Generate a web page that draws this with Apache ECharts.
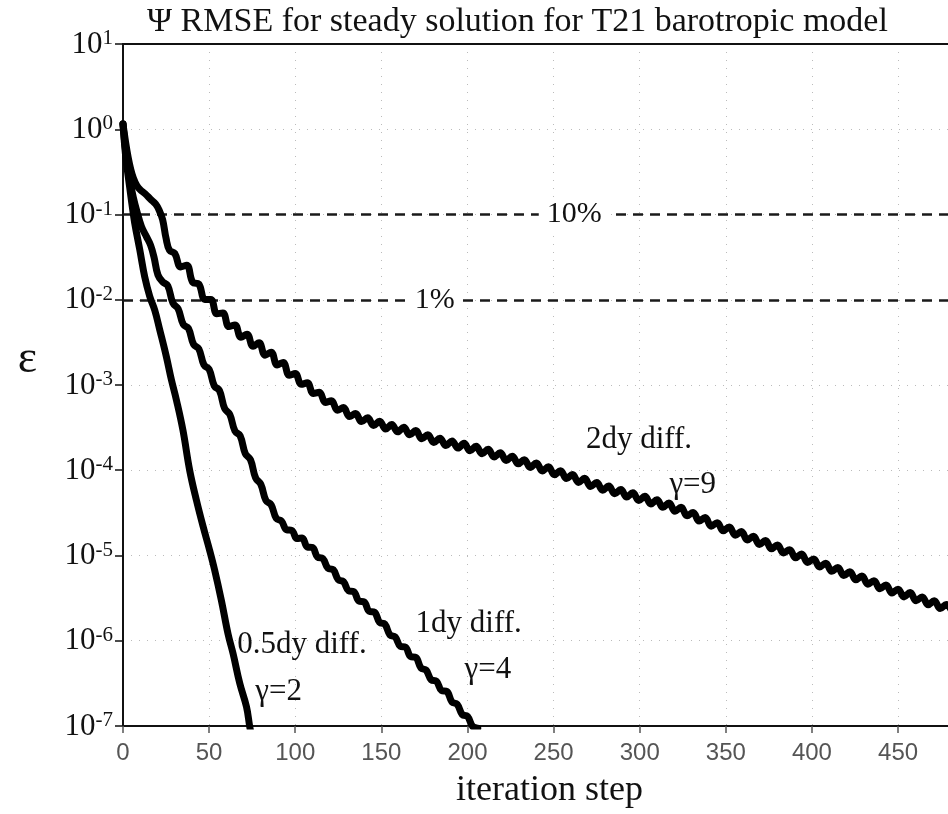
<!DOCTYPE html>
<html><head><meta charset="utf-8">
<script src="https://cdn.jsdelivr.net/npm/echarts@6/dist/echarts.min.js"></script>
<style>html,body{margin:0;padding:0;background:#fff}#c{width:948px;height:814px}</style>
</head><body><div id="c"></div>
<script>
const TITLE = 'Ψ RMSE for steady solution for T21 barotropic model';
const X_NAME = 'iteration step';
const Y_NAME = 'ε';
const X_TICKS = [0, 50, 100, 150, 200, 250, 300, 350, 400, 450];

// [iteration, RMSE]
const RMSE_2DY = [
[0,1.15],[1.5,0.708],[3,0.468],[4.5,0.339],[6,0.269],[8,0.219],[10,0.195],[13,0.174],[16,0.151],[19,0.132],[21,0.112],[23,0.0871],[25,0.0525],[27,0.0380],
[30,3.51e-2],[33.5,2.43e-2],[37,2.54e-2],[40.5,1.60e-2],[44,1.53e-2],[47.5,1.01e-2],[51,1.01e-2],[54.5,6.84e-3],[58,7.00e-3],[61.5,4.84e-3],
[65,5.07e-3],[68.5,3.63e-3],[72,3.94e-3],[75.5,2.85e-3],[79,3.13e-3],[82.5,2.24e-3],[86,2.43e-3],[89.5,1.72e-3],[93,1.84e-3],[96.5,1.30e-3],
[100,1.36e-3],[103.5,1.02e-3],[107,1.06e-3],[110.5,7.94e-4],[114,8.22e-4],[117.5,6.24e-4],[121,6.53e-4],[124.5,5.07e-4],[128,5.43e-4],[131.5,4.27e-4],
[135,4.62e-4],[138.5,3.72e-4],[142,4.12e-4],[145.5,3.35e-4],[149,3.76e-4],[152.5,3.05e-4],[156,3.43e-4],[159.5,2.82e-4],[163,3.20e-4],[166.5,2.60e-4],
[170,2.92e-4],[173.5,2.34e-4],[177,2.60e-4],[180.5,2.11e-4],[184,2.37e-4],[187.5,1.95e-4],[191,2.21e-4],[194.5,1.82e-4],[198,2.07e-4],[201.5,1.69e-4],
[205,1.91e-4],[208.5,1.56e-4],[212,1.76e-4],[215.5,1.43e-4],[219,1.60e-4],[222.5,1.30e-4],[226,1.46e-4],[229.5,1.19e-4],[233,1.33e-4],[236.5,1.08e-4],
[240,1.22e-4],[243.5,9.83e-5],[247,1.10e-4],[250.5,8.86e-5],[254,9.89e-5],[257.5,7.99e-5],[261,8.91e-5],[264.5,7.20e-5],[268,8.04e-5],[271.5,6.46e-5],
[275,7.16e-5],[278.5,5.82e-5],[282,6.53e-5],[285.5,5.31e-5],[289,5.96e-5],[292.5,4.84e-5],[296,5.43e-5],[299.5,4.42e-5],[303,4.95e-5],[306.5,4.03e-5],
[310,4.52e-5],[313.5,3.67e-5],[317,4.12e-5],[320.5,3.31e-5],[324,3.67e-5],[327.5,2.92e-5],[331,3.20e-5],[334.5,2.54e-5],[338,2.79e-5],[341.5,2.21e-5],
[345,2.43e-5],[348.5,1.95e-5],[352,2.16e-5],[355.5,1.73e-5],[359,1.91e-5],[362.5,1.52e-5],[366,1.68e-5],[369.5,1.35e-5],[373,1.50e-5],[376.5,1.20e-5],
[380,1.33e-5],[383.5,1.07e-5],[387,1.17e-5],[390.5,9.39e-6],[394,1.04e-5],[397.5,8.27e-6],[401,9.12e-6],[404.5,7.33e-6],[408,8.13e-6],[411.5,6.53e-6],
[415,7.24e-6],[418.5,5.82e-6],[422,6.46e-6],[425.5,5.19e-6],[429,5.75e-6],[432.5,4.60e-6],[436,5.07e-6],[439.5,4.07e-6],[443,4.52e-6],[446.5,3.63e-6],
[450,4.03e-6],[453.5,3.27e-6],[457,3.67e-6],[460.5,2.95e-6],[464,3.27e-6],[467.5,2.65e-6],[471,2.95e-6],[474.5,2.39e-6],[478,2.66e-6],[481.5,2.15e-6]
];

const RMSE_1DY = [
[0,1.15],[1,0.692],[2,0.457],[3,0.331],[4,0.251],[6,0.158],[8,0.110],[10.7,0.0724],[13.6,0.0550],[16,0.0437],[18,0.0316],[20.3,0.0195],[23,0.0162],
[26,1.46e-2],[29,9.12e-3],[32,7.85e-3],[35,5.13e-3],[38,4.62e-3],[41,2.99e-3],[44,2.66e-3],[47,1.72e-3],[50,1.53e-3],[53,9.77e-4],[56,8.61e-4],
[59,5.31e-4],[62,4.52e-4],[65,2.88e-4],[68,2.54e-4],[71,1.57e-4],[74,1.33e-4],[77,8.13e-5],[80,6.84e-5],[83,4.42e-5],[86,3.94e-5],[89,2.72e-5],
[92,2.54e-5],[95,2.00e-5],[98,1.97e-5],[101,1.58e-5],[104,1.60e-5],[107,1.26e-5],[110,1.24e-5],[113,9.55e-6],[116,9.23e-6],[119,7.08e-6],[122,6.84e-6],
[125,5.19e-6],[128,4.95e-6],[131,3.85e-6],[134,3.76e-6],[137,2.92e-6],[140,2.85e-6],[143,2.21e-6],[146,2.16e-6],[149,1.64e-6],[152,1.57e-6],
[155,1.17e-6],[158,1.11e-6],[161,8.61e-7],[164,8.41e-7],[167,6.53e-7],[170,6.38e-7],[173,4.79e-7],[176,4.52e-7],[179,3.47e-7],[182,3.35e-7],
[185,2.60e-7],[188,2.54e-7],[191,1.91e-7],[194,1.80e-7],[197,1.36e-7],[200,1.30e-7],[203,9.89e-8],[206,9.44e-8]
];

const RMSE_05DY = [
[0,1.15],[1,0.631],[2,0.398],[3,0.282],[4,0.200],[5,0.141],[6.8,0.0794],[9.7,0.0389],[12.6,0.0186],[15.5,0.0110],[18.4,7.59e-3],[21.3,4.47e-3],
[25.2,2.14e-3],[28.1,1.15e-3],[31,6.68e-4],[34.8,2.95e-4],[38.7,1.00e-4],[42.6,4.47e-5],[46.5,2.19e-5],[50.3,1.15e-5],[53.2,6.76e-6],[57.1,2.99e-6],
[61,1.20e-6],[63.9,7.08e-7],[67.8,3.16e-7],[71.7,1.68e-7],[73.6,9.77e-8],[74.5,8.0e-8]
];

const THRESHOLDS = [0.1, 0.01];
const THRESHOLD_LABELS = [
  {name: '10%', value: [262, 0.1]},
  {name: '1%', value: [181, 0.01]}
];
const CURVE_LABELS = [
  {name: '2dy diff.', value: [299.6, 2.27e-4]},
  {name: 'γ=9', value: [330.8, 6.71e-5]},
  {name: '1dy diff.', value: [200.7, 1.57e-6]},
  {name: 'γ=4', value: [211.8, 4.53e-7]},
  {name: '0.5dy diff.', value: [103.9, 8.91e-7]},
  {name: 'γ=2', value: [90.4, 2.50e-7]}
];

const SERIF = '"Liberation Serif", "Times New Roman", serif';
const chart = echarts.init(document.getElementById('c'), null, {renderer: 'canvas'});

function curve(name, data) {
  return {
    name, type: 'line', data, smooth: 0.4, symbol: 'none', clip: true,
    lineStyle: {color: '#000', width: 7, cap: 'round', join: 'round'},
    z: 5, silent: true
  };
}

chart.setOption({
  animation: false,
  backgroundColor: '#fff',
  title: {
    text: TITLE, left: 147, top: 5, padding: 0,
    textStyle: {fontFamily: SERIF, fontSize: 34, fontWeight: 'normal', color: '#111'}
  },
  grid: {left: 123, right: 0, top: 44, bottom: 88, containLabel: false},
  xAxis: [{
    type: 'value', min: 0, max: 479, interval: 50,
    name: X_NAME, nameLocation: 'middle', nameGap: 47,
    nameTextStyle: {fontFamily: SERIF, fontSize: 36, color: '#111', padding: [0, 0, 0, 28]},
    axisLine: {show: true, onZero: false, lineStyle: {color: '#111', width: 2}},
    axisTick: {show: true, length: 7, lineStyle: {color: '#555', width: 1.5}},
    axisLabel: {
      showMaxLabel: false, margin: 15, color: '#555', fontFamily: '"Liberation Sans", Arial, sans-serif', fontSize: 24,
      formatter: v => (X_TICKS.indexOf(v) >= 0 ? String(v) : '')
    },
    splitLine: {show: true, lineStyle: {color: '#bbb', width: 1, type: [1, 7]}}
  }, {
    type: 'value', position: 'top', min: 0, max: 479,
    axisLine: {show: true, onZero: false, lineStyle: {color: '#111', width: 2}},
    axisTick: {show: false}, axisLabel: {show: false}, splitLine: {show: false}
  }],
  yAxis: {
    type: 'log', logBase: 10, min: 1e-7, max: 10, interval: 1,
    name: Y_NAME, nameLocation: 'middle', nameGap: 86, nameRotate: 0,
    nameTextStyle: {fontFamily: SERIF, fontSize: 46, color: '#111', verticalAlign: 'bottom', lineHeight: 46, padding: [0, 0, 2, 0]},
    axisLine: {show: true, onZero: false, lineStyle: {color: '#111', width: 2}},
    axisTick: {show: true, length: 8, lineStyle: {color: '#111', width: 1.5}},
    axisLabel: {
      margin: 10,
      formatter: v => '{b|10}{s|' + Math.round(Math.log10(v)) + '}',
      rich: {
        b: {fontFamily: SERIF, fontSize: 31, color: '#111', lineHeight: 32, padding: [6, 0, 0, 0], verticalAlign: 'bottom'},
        s: {fontFamily: SERIF, fontSize: 21, color: '#111', lineHeight: 20, verticalAlign: 'top'}
      }
    },
    splitLine: {show: true, lineStyle: {color: '#bbb', width: 1, type: [1, 7]}}
  },
  series: [
    {
      name: 'thresholds', type: 'line', data: [], silent: true, z: 2,
      markLine: {
        silent: true, symbol: ['none', 'none'], animation: false,
        label: {show: false},
        lineStyle: {color: '#1a1a1a', width: 2.5, type: [10, 7]},
        data: THRESHOLDS.map(t => ({yAxis: t}))
      }
    },
    curve('0.5dy diff.', RMSE_05DY),
    curve('1dy diff.', RMSE_1DY),
    curve('2dy diff.', RMSE_2DY),
    {
      name: 'threshold labels', type: 'scatter', data: THRESHOLD_LABELS, symbolSize: 0, silent: true, z: 6,
      itemStyle: {opacity: 1},
      label: {show: true, position: 'inside', formatter: p => p.name, fontFamily: SERIF, fontSize: 30, color: '#111',
        opacity: 1, backgroundColor: '#fff', padding: [0, 8]}
    },
    {
      name: 'curve labels', type: 'scatter', data: CURVE_LABELS, symbolSize: 0, silent: true, z: 6,
      itemStyle: {opacity: 1},
      label: {show: true, position: 'inside', formatter: p => p.name, fontFamily: SERIF, fontSize: 31, color: '#111', opacity: 1}
    }
  ]
});
</script>
</body></html>
